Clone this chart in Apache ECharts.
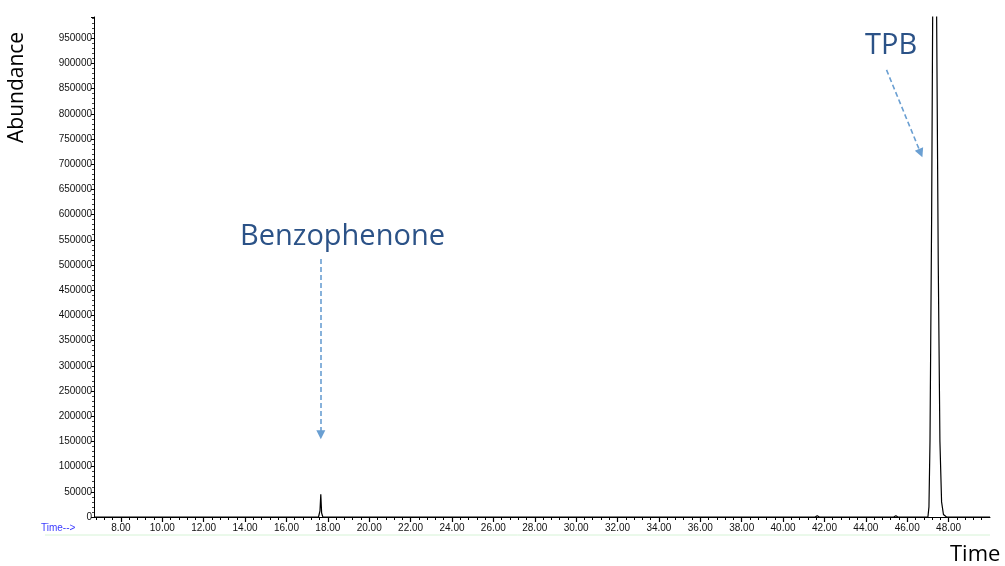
<!DOCTYPE html>
<html><head><meta charset="utf-8">
<script src="https://cdn.jsdelivr.net/npm/echarts@6/dist/echarts.min.js"></script>
<style>html,body{margin:0;padding:0;background:#fff}#c{width:1005px;height:566px}</style>
</head><body><div id="c"></div>
<script>
// Retention times (min) and abundance
var times = [6.7, 17.55, 17.62, 17.66, 17.70, 17.76, 41.55, 41.65, 41.75, 45.35, 45.45, 45.55,
             47.00, 47.05, 47.10, 47.18, 47.23, 47.32, 47.42, 47.50, 47.58, 47.66, 47.75, 47.90, 50.0];
var abundance = [0, 0, 12000, 45000, 8000, 0, 0, 2500, 0, 0, 2500, 0,
                 0, 20000, 150000, 600000, 1000000, 3000000, 1000000, 500000, 150000, 30000, 5000, 0, 0];
var xLabelValues = [8,10,12,14,16,18,20,22,24,26,28,30,32,34,36,38,40,42,44,46,48];
var xMinorValues = [];
for (var v = 68; v <= 496; v += 4) { xMinorValues.push(v / 10); }
var annotations = [
  {name: 'Benzophenone', from: [17.66, 512000], to: [17.66, 163000]},
  {name: 'TPB', from: [45.0, 887000], to: [46.65, 722000]}
];

var data = times.map(function (t, i) { return [t, abundance[i]]; });
var chart = echarts.init(document.getElementById('c'));
var labelFont = {fontFamily: 'Liberation Sans, Arial', fontSize: 10, color: '#111'};
chart.setOption({
  animation: false,
  grid: {left: 94, right: 15, top: 17, bottom: 49},
  xAxis: [{
    type: 'value', min: 6.7, max: 50,
    axisLine: {lineStyle: {color: '#000', width: 1}},
    axisTick: {customValues: xLabelValues, length: 5, lineStyle: {color: '#000', width: 1.2}},
    axisLabel: Object.assign({customValues: xLabelValues, margin: 6,
      formatter: function (v) { return v.toFixed(2); }}, labelFont),
    splitLine: {show: false}
  }, {
    type: 'value', min: 6.7, max: 50, position: 'bottom',
    axisLine: {show: false},
    axisTick: {customValues: xMinorValues, length: 3, lineStyle: {color: '#000', width: 1}},
    axisLabel: {show: false},
    splitLine: {show: false}
  }],
  yAxis: {
    type: 'value', min: 0, max: 992000, interval: 50000,
    axisLine: {show: true, lineStyle: {color: '#000', width: 1}},
    axisTick: {show: true, length: 3, lineStyle: {color: '#000'}},
    minorTick: {show: true, splitNumber: 5, length: 2, lineStyle: {color: '#444'}},
    axisLabel: Object.assign({showMaxLabel: false, margin: 2,
      formatter: function (v) { return String(v); }}, labelFont),
    splitLine: {show: false}
  },
  series: [{
    type: 'line', data: data, xAxisIndex: 0, showSymbol: false, symbol: 'none',
    lineStyle: {color: '#000', width: 1.2}, clip: true,
    markLine: {
      silent: true, symbol: ['none', 'triangle'], symbolSize: [9, 9],
      lineStyle: {color: '#6a9fd2', type: [5, 3], width: 1.6},
      label: {show: false},
      data: annotations.map(function (a) {
        return [{coord: a.from}, {coord: a.to}];
      })
    }
  }],
  graphic: [
    {type: 'text', left: 240, top: 222, style: {text: 'Benzophenone', font: '29px "Open Sans", "Noto Sans", sans-serif', fill: '#2b5287'}},
    {type: 'text', left: 865, top: 31, style: {text: 'TPB', font: '29px "Open Sans", "Noto Sans", sans-serif', fill: '#2b5287'}},
    {type: 'text', x: 7, y: 143, rotation: Math.PI / 2, style: {text: 'Abundance', font: '21px "Open Sans", "Noto Sans", sans-serif', fill: '#000', textAlign: 'left', textVerticalAlign: 'top'}},
    {type: 'text', left: 950, top: 544, style: {text: 'Time', font: '22px "Open Sans", "Noto Sans", sans-serif', fill: '#000'}},
    {type: 'text', left: 41, top: 523, style: {text: 'Time-->', font: '10px "Liberation Sans", Arial', fill: '#3a3aff'}},
    {type: 'line', shape: {x1: 45, y1: 535, x2: 990, y2: 535}, style: {stroke: '#d6f3d6', lineWidth: 1}}
  ]
});
</script></body></html>
